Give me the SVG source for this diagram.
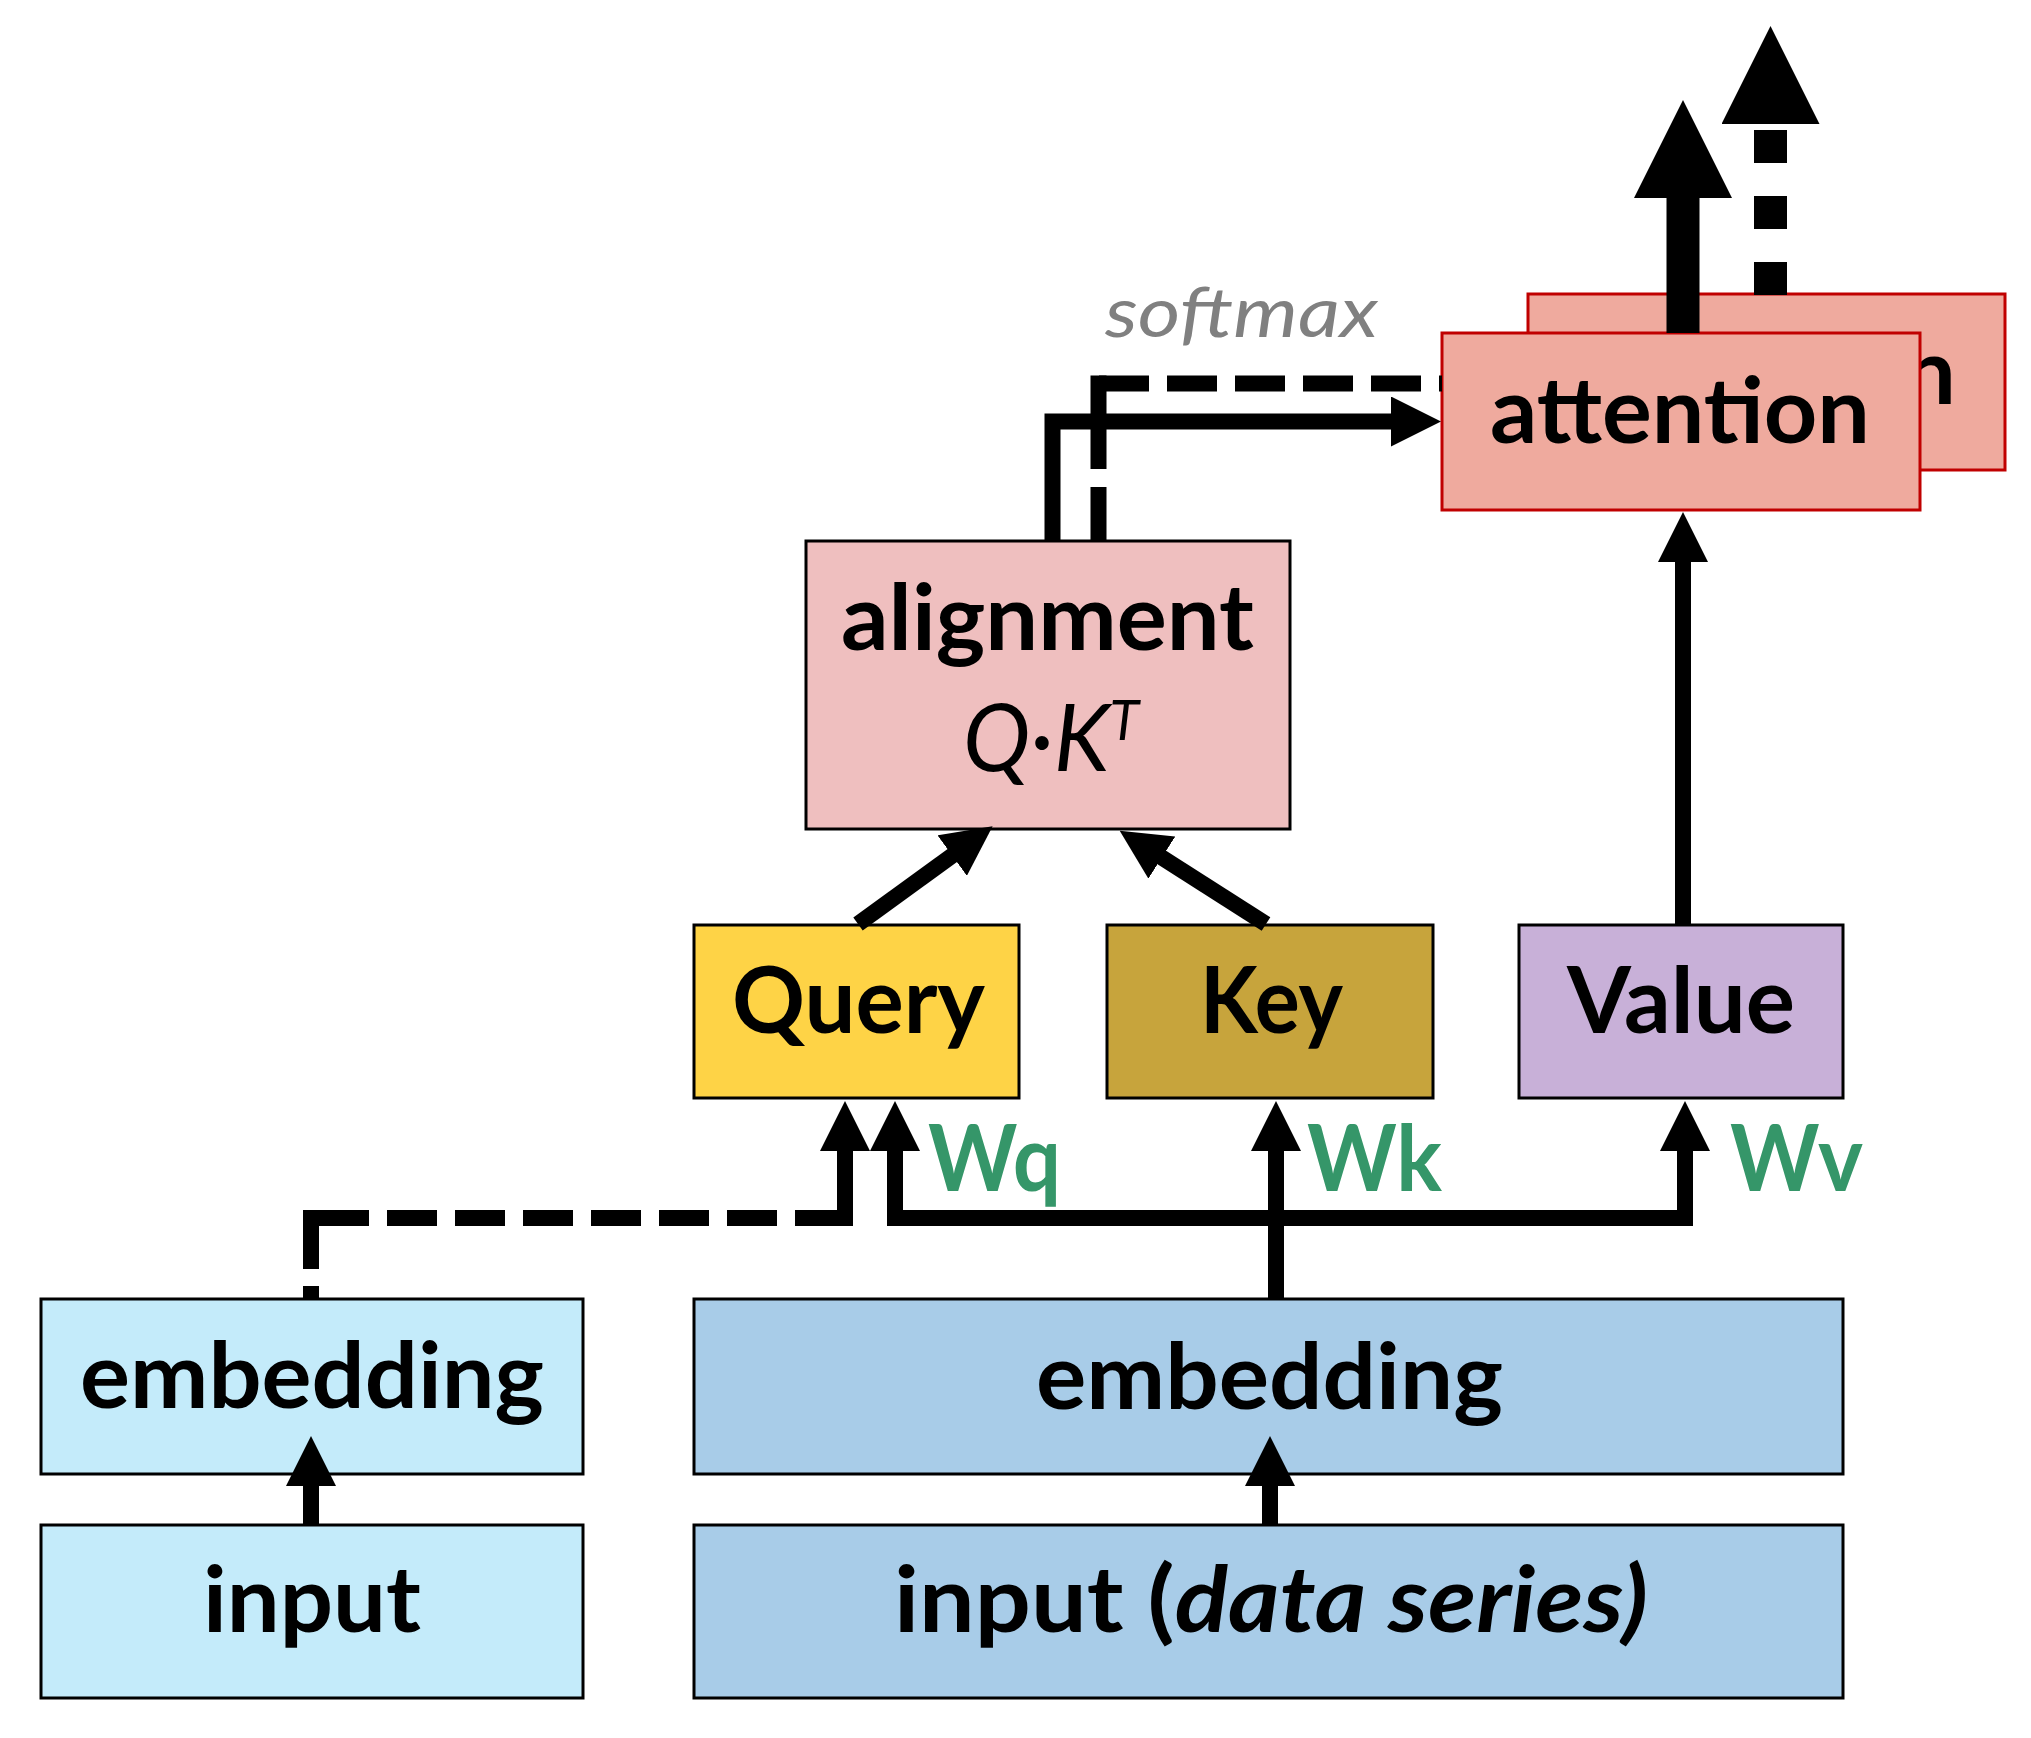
<svg xmlns="http://www.w3.org/2000/svg" width="2031" height="1738" viewBox="0 0 2031 1738">
<style>
.box{stroke:#000;stroke-width:3}
.att{fill:#efaa9e;stroke:#c00000;stroke-width:3}
.lbl{font-family:Lato,"Liberation Sans",sans-serif;font-weight:bold;font-size:92px;fill:#000;text-anchor:middle}
.w{font-family:Lato,"Liberation Sans",sans-serif;font-weight:bold;font-size:92px;fill:#359669}
.math{font-family:Lato,"Liberation Sans",sans-serif;font-style:italic;font-size:94px;fill:#000}
.sup{font-size:56px}
.soft{font-family:Lato,"Liberation Sans",sans-serif;font-style:italic;font-size:70px;fill:#808080;text-anchor:middle}
.c{fill:none;stroke:#000;stroke-width:16;stroke-linejoin:miter;stroke-linecap:butt}
.d{stroke-dasharray:50 18}
.big{fill:none;stroke:#000;stroke-width:33}
</style>
<defs>
<marker id="ah" viewBox="0 0 50 50" refX="1" refY="25" markerWidth="50" markerHeight="50" markerUnits="userSpaceOnUse" orient="auto"><path d="M0,0 L50,25 L0,50 z" fill="#000"/></marker>
<marker id="bh" viewBox="0 0 98 98" refX="1" refY="49" markerWidth="98" markerHeight="98" markerUnits="userSpaceOnUse" orient="auto"><path d="M0,0 L98,49 L0,98 z" fill="#000"/></marker>
</defs>
<rect width="2031" height="1738" fill="#fff"/>

<g id="input-left"><rect class="box" x="41" y="1525" width="542" height="173" fill="#c4ebfa"/><text class="lbl" x="312" y="1632" textLength="218" lengthAdjust="spacingAndGlyphs">input</text></g>
<g id="embedding-left"><rect class="box" x="41" y="1299" width="542" height="175" fill="#c4ebfa"/><text class="lbl" x="312" y="1408" textLength="464" lengthAdjust="spacingAndGlyphs">embedding</text></g>
<g id="input-right"><rect class="box" x="694" y="1525" width="1149" height="173" fill="#a8cce8"/><text class="lbl" x="1271" y="1632" textLength="754" lengthAdjust="spacingAndGlyphs">input (<tspan font-style="italic">data series)</tspan></text></g>
<g id="embedding-right"><rect class="box" x="694" y="1299" width="1149" height="175" fill="#a8cce8"/><text class="lbl" x="1269.5" y="1409" textLength="467" lengthAdjust="spacingAndGlyphs">embedding</text></g>
<g id="query"><rect class="box" x="694" y="925" width="325" height="173" fill="#fed346"/><text class="lbl" x="858.5" y="1033" textLength="253" lengthAdjust="spacingAndGlyphs">Query</text></g>
<g id="key"><rect class="box" x="1107" y="925" width="326" height="173" fill="#c7a43c"/><text class="lbl" x="1271.5" y="1033" textLength="143" lengthAdjust="spacingAndGlyphs">Key</text></g>
<g id="value"><rect class="box" x="1519" y="925" width="324" height="173" fill="#c8b0d8"/><text class="lbl" x="1681" y="1033" textLength="228" lengthAdjust="spacingAndGlyphs">Value</text></g>
<g id="alignment"><rect class="box" x="806" y="541" width="484" height="288" fill="#efbfbf"/><text class="lbl" x="1047.5" y="650" textLength="413" lengthAdjust="spacingAndGlyphs">alignment</text><text class="math" x="963" y="771" textLength="176" lengthAdjust="spacingAndGlyphs">Q·K<tspan class="sup" dy="-31">T</tspan></text></g>
<g id="attention-back"><rect class="att" x="1528" y="294" width="477" height="176"/><text class="lbl" x="1766" y="404" textLength="380" lengthAdjust="spacingAndGlyphs">attention</text></g>
<g id="attention-front"><rect class="att" x="1442" y="333" width="478" height="177"/><text class="lbl" x="1680" y="443" textLength="380" lengthAdjust="spacingAndGlyphs">attention</text></g>

<g id="labels">
<text class="w" x="928" y="1191" textLength="133" lengthAdjust="spacingAndGlyphs">Wq</text>
<text class="w" x="1307" y="1191" textLength="135" lengthAdjust="spacingAndGlyphs">Wk</text>
<text class="w" x="1730" y="1191" textLength="133" lengthAdjust="spacingAndGlyphs">Wv</text>
<text class="soft" x="1241.5" y="337" textLength="273" lengthAdjust="spacingAndGlyphs">softmax</text>
</g>

<g id="connectors">
<path class="c" d="M311,1525 V1485" marker-end="url(#ah)"/>
<path class="c" d="M1270,1525 V1485" marker-end="url(#ah)"/>
<path class="c" d="M311,1299 V1210" stroke-dasharray="13 17 200"/>
<path class="c d" d="M319,1218 H845"/>
<path class="c" d="M845,1226 V1150" marker-end="url(#ah)"/>
<path class="c" d="M1276,1299 V1150" marker-end="url(#ah)"/>
<path class="c" d="M1276,1218 H895 V1150" marker-end="url(#ah)"/>
<path class="c" d="M1276,1218 H1685 V1150" marker-end="url(#ah)"/>
<path class="c" d="M858,924 L953,855" marker-end="url(#ah)"/>
<path class="c" d="M1266,924 L1161,857" marker-end="url(#ah)"/>
<path class="c" d="M1683,925 V561" marker-end="url(#ah)"/>
<path class="c" d="M1052.5,541 V421.5 H1392" marker-end="url(#ah)"/>
<path class="c" d="M1098.5,541 V375.5" stroke-dasharray="54 18 200"/>
<path class="c d" d="M1099,383.5 H1442"/>
<path class="big" d="M1683,333 V197" marker-end="url(#bh)"/>
<path class="big" d="M1770.5,295 V123" stroke-dasharray="33 33" marker-end="url(#bh)"/>
</g>
</svg>
